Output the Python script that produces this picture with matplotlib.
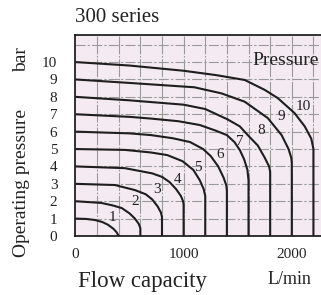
import matplotlib
matplotlib.use('Agg')
import matplotlib.pyplot as plt

# pressure curves: (flow L/min, pressure bar)
flow_1 = [0, 100, 180, 250, 300, 350, 380, 400]
pres_1 = [1.0, 0.98, 0.92, 0.8, 0.65, 0.42, 0.22, 0.0]
flow_2 = [0, 240, 350, 430, 500, 550, 585, 600, 600]
pres_2 = [2.0, 1.9, 1.75, 1.6, 1.3, 1.0, 0.7, 0.45, 0.0]
flow_3 = [0, 365, 550, 650, 710, 760, 790, 800, 800]
pres_3 = [3.0, 2.93, 2.64, 2.4, 2.1, 1.7, 1.35, 1.1, 0.0]
flow_4 = [0, 457, 710, 800, 870, 930, 975, 995, 1000, 1000]
pres_4 = [4.0, 3.9, 3.6, 3.4, 3.1, 2.7, 2.3, 2.0, 1.8, 0.0]
flow_5 = [0, 457, 700, 850, 990, 1090, 1150, 1185, 1200, 1200]
pres_5 = [5.0, 4.95, 4.8, 4.65, 4.3, 3.8, 3.2, 2.7, 2.3, 0.0]
flow_6 = [0, 500, 700, 900, 1060, 1180, 1250, 1320, 1370, 1395, 1400, 1400]
pres_6 = [6.0, 5.9, 5.8, 5.62, 5.4, 5.0, 4.6, 4.0, 3.35, 2.9, 2.6, 0.0]
flow_7 = [0, 500, 700, 950, 1150, 1300, 1400, 1470, 1520, 1560, 1590, 1600, 1600]
pres_7 = [7.0, 6.85, 6.75, 6.6, 6.38, 6.05, 5.8, 5.4, 4.94, 4.4, 3.8, 3.2, 0.0]
flow_8 = [0, 500, 1000, 1200, 1408, 1520, 1593, 1686, 1750, 1790, 1800, 1800]
pres_8 = [8.0, 7.8, 7.55, 7.3, 6.7, 6.3, 5.8, 5.2, 4.5, 4.0, 3.7, 0.0]
flow_9 = [0, 500, 1100, 1350, 1565, 1778, 1906, 1970, 1995, 2000, 2000]
pres_9 = [9.0, 8.8, 8.55, 8.2, 7.72, 6.78, 5.8, 5.0, 4.5, 4.2, 0.0]
flow_10 = [0, 500, 1000, 1300, 1565, 1750, 1870, 2025, 2120, 2180, 2200, 2200]
pres_10 = [10.0, 9.8, 9.5, 9.25, 8.97, 8.4, 7.93, 7.07, 6.3, 5.6, 5.0, 0.0]

curves = [(flow_1, pres_1), (flow_2, pres_2), (flow_3, pres_3), (flow_4, pres_4),
          (flow_5, pres_5), (flow_6, pres_6), (flow_7, pres_7), (flow_8, pres_8),
          (flow_9, pres_9), (flow_10, pres_10)]

curve_labels = ['1', '2', '3', '4', '5', '6', '7', '8', '9', '10']
label_x = [346, 550, 750, 944, 1134, 1334, 1519, 1719, 1904, 2104]
label_y = [1.09, 1.97, 2.68, 3.26, 3.95, 4.66, 5.42, 6.05, 6.86, 7.43]

x_ticks = [0, 1000, 2000]
y_ticks = [0, 1, 2, 3, 4, 5, 6, 7, 8, 9, 10]

plt.rcParams['font.family'] = ['Liberation Serif', 'DejaVu Serif']

fig = plt.figure(figsize=(3.21, 2.95), dpi=100)
ax = fig.add_axes([0.235, 0.2, 0.765, 0.681])
ax.set_facecolor('#f3eaf2')

ax.set_xlim(0, 2270)
ax.set_ylim(0, 11.55)

# grid
for gx in range(200, 2300, 200):
    ax.axvline(gx, color='#9a9a9a', lw=0.8, ls=(0, (16, 1.5, 1.5, 1.5)), zorder=1)
for gy in range(1, 12):
    ax.axhline(gy, color='#9a9a9a', lw=0.8, ls=(0, (9, 2, 2, 2)), zorder=1)

for fx, py in curves:
    ax.plot(fx, py, color='#1e1e1e', lw=1.5, zorder=3, solid_capstyle='butt')

for lab, lx, ly in zip(curve_labels, label_x, label_y):
    ax.text(lx, ly, lab, fontsize=11, ha='center', va='center', color='#222222', zorder=4)

ax.text(1635, 10.1, 'Pressure', fontsize=14, ha='left', va='center', color='#222222', zorder=4)

ax.set_xticks(x_ticks)
ax.set_yticks(y_ticks)
ax.tick_params(length=0, labelsize=11, colors='#222222')
ax.tick_params(axis='x', pad=9)
ax.tick_params(axis='y', pad=13)

for s in ['left', 'bottom', 'top']:
    ax.spines[s].set_linewidth(1.2)
    ax.spines[s].set_color('#111111')
ax.spines['right'].set_visible(False)

fig.text(75 / 321, 1 - 18 / 295, '300 series', fontsize=15, ha='left', va='center', color='#222222')
fig.text(78 / 321, 1 - 282 / 295, 'Flow capacity', fontsize=16.5, ha='left', va='center', color='#222222')
fig.text(268 / 321, 1 - 280 / 295, 'L/min', fontsize=13, ha='left', va='center', color='#222222')
fig.text(22 / 321, 1 - 183 / 295, 'Operating pressure', fontsize=14, rotation=90, ha='center', va='center', color='#222222')
fig.text(22 / 321, 1 - 60 / 295, 'bar', fontsize=14, rotation=90, ha='center', va='center', color='#222222')

fig.savefig('out.png', dpi=100)
